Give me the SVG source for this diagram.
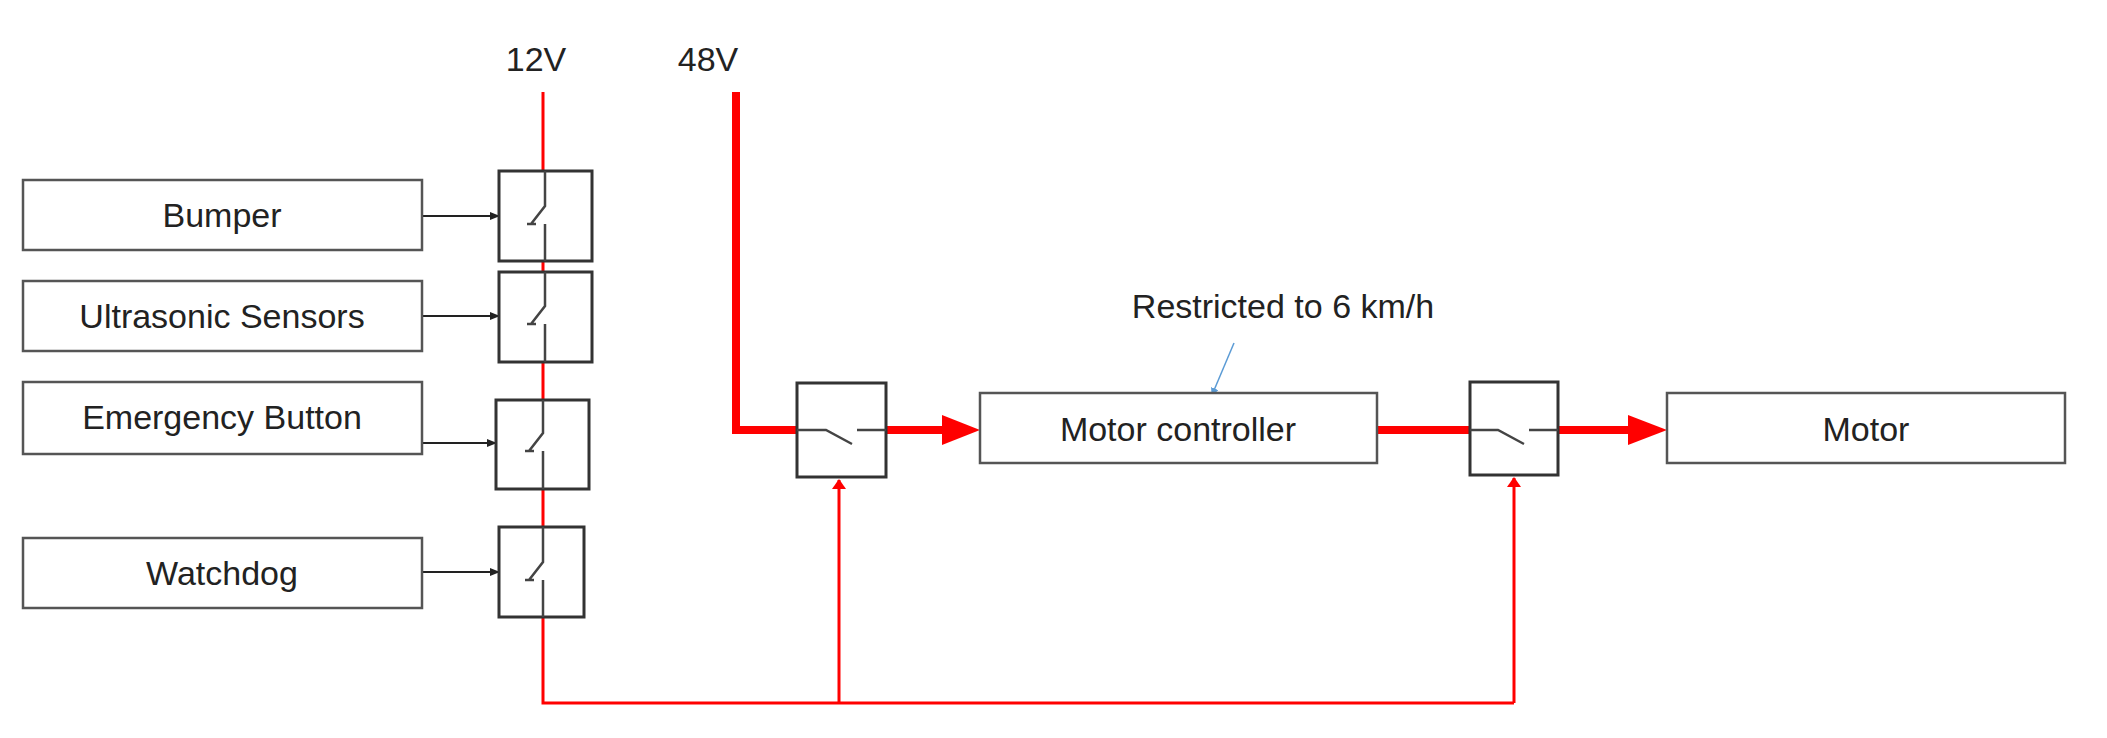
<svg xmlns="http://www.w3.org/2000/svg" width="2107" height="738" viewBox="0 0 2107 738">
<style>
.box{fill:#fff;stroke:#555;stroke-width:2.5}
.sw{fill:#fff;stroke:#333;stroke-width:3}
.sym{fill:none;stroke:#444;stroke-width:2.5}
.t{font-family:"Liberation Sans",Arial,sans-serif;font-size:34px;fill:#222;text-anchor:middle}
.red{fill:none;stroke:#f00;stroke-width:3}
.thick{fill:none;stroke:#f00;stroke-width:8}
.blk{fill:none;stroke:#222;stroke-width:2}
</style>
<defs>
<marker id="ab" markerWidth="10" markerHeight="8" refX="9" refY="4" orient="auto" markerUnits="userSpaceOnUse"><path d="M0,0 L10,4 L0,8z" fill="#222"/></marker>
<marker id="ar" markerWidth="10" markerHeight="14" refX="9" refY="7" orient="auto" markerUnits="userSpaceOnUse"><path d="M0,0 L10,7 L0,14z" fill="#f00"/></marker>
<marker id="abl" markerWidth="8" markerHeight="8" refX="7" refY="4" orient="auto" markerUnits="userSpaceOnUse"><path d="M0,0 L8,4 L0,8z" fill="#5b9bd5"/></marker>
</defs>
<text class="t" x="536" y="71">12V</text>
<text class="t" x="708" y="71">48V</text>
<g id="connectors">
<path class="red" d="M543,92 V703 H1514"/>
<path class="red" d="M839,703 V480" marker-end="url(#ar)"/>
<path class="red" d="M1514,703 V478" marker-end="url(#ar)"/>
<path class="thick" d="M736,92 V430 H797"/>
<path class="thick" d="M886,430 H945"/>
<path d="M942,415 L980,430 L942,445z" fill="#f00"/>
<path class="thick" d="M1377,430 H1470"/>
<path class="thick" d="M1558,430 H1630"/>
<path d="M1628,415 L1667,430 L1628,445z" fill="#f00"/>
<path class="blk" d="M422,216 H499" marker-end="url(#ab)"/>
<path class="blk" d="M422,316 H499" marker-end="url(#ab)"/>
<path class="blk" d="M422,443 H496" marker-end="url(#ab)"/>
<path class="blk" d="M422,572 H499" marker-end="url(#ab)"/>
<path d="M1234,343 L1212,395" stroke="#5b9bd5" stroke-width="1.5" fill="none" marker-end="url(#abl)"/>
</g>
<g id="bumper"><rect class="box" x="23" y="180" width="399" height="70"/><text class="t" x="222" y="227">Bumper</text></g>
<g id="ultrasonic"><rect class="box" x="23" y="281" width="399" height="70"/><text class="t" x="222" y="328">Ultrasonic Sensors</text></g>
<g id="emergency"><rect class="box" x="23" y="382" width="399" height="72"/><text class="t" x="222" y="429">Emergency Button</text></g>
<g id="watchdog"><rect class="box" x="23" y="538" width="399" height="70"/><text class="t" x="222" y="585">Watchdog</text></g>
<g id="sw1"><rect class="sw" x="499" y="171" width="93" height="90"/><path class="sym" d="M545,171 V206 L531,224 M527,224 H536 M545,224 V261"/></g>
<g id="sw2"><rect class="sw" x="499" y="272" width="93" height="90"/><path class="sym" d="M545,272 V306 L531,324 M527,324 H536 M545,324 V362"/></g>
<g id="sw3"><rect class="sw" x="496" y="400" width="93" height="89"/><path class="sym" d="M543,400 V433 L529,451 M525,451 H534 M543,451 V489"/></g>
<g id="sw4"><rect class="sw" x="499" y="527" width="85" height="90"/><path class="sym" d="M543,527 V562 L529,580 M525,580 H534 M543,580 V617"/></g>
<g id="sw5"><rect class="sw" x="797" y="383" width="89" height="94"/><path class="sym" d="M797,430 H826 L852,444 M857,430 H886"/></g>
<g id="controller"><rect class="box" x="980" y="393" width="397" height="70"/><text class="t" x="1178" y="441">Motor controller</text></g>
<text class="t" x="1283" y="318">Restricted to 6 km/h</text>
<g id="sw6"><rect class="sw" x="1470" y="382" width="88" height="93"/><path class="sym" d="M1470,430 H1498 L1524,444 M1529,430 H1558"/></g>
<g id="motor"><rect class="box" x="1667" y="393" width="398" height="70"/><text class="t" x="1866" y="441">Motor</text></g>
</svg>
